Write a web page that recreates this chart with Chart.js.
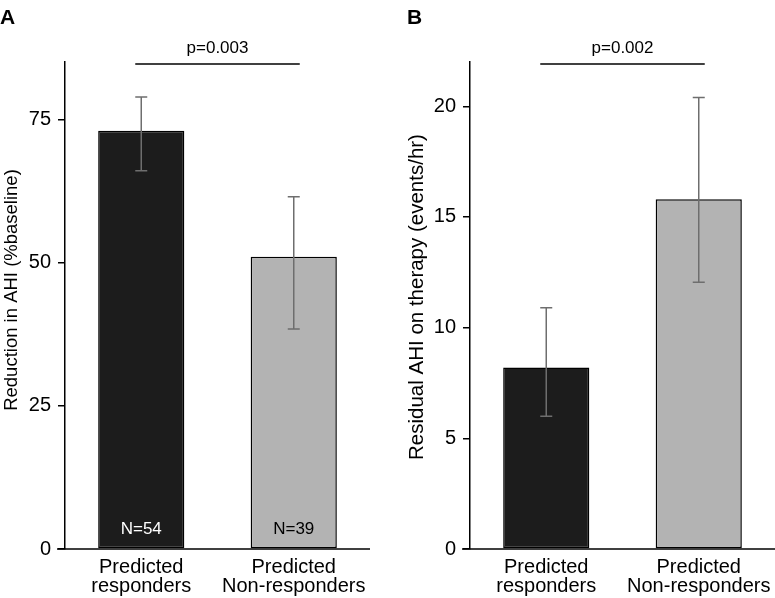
<!DOCTYPE html>
<html>
<head>
<meta charset="utf-8">
<script src="https://cdn.jsdelivr.net/npm/chart.js@4.4.1/dist/chart.umd.min.js"></script>
<style>
  body { margin: 0; background: #fff; }
  #wrap { position: relative; width: 775px; height: 598px; }
  canvas { position: absolute; top: 0; }
  #chartA { left: 0; }
  #chartB { left: 390px; }
</style>
</head>
<body>
<div id="wrap">
  <canvas id="chartA" width="390" height="598"></canvas>
  <canvas id="chartB" width="385" height="598"></canvas>
</div>
<script>
const categories = [['Predicted', 'responders'], ['Predicted', 'Non-responders']];

const reductionMean = [73, 51];
const reductionLower = [66, 38.4];
const reductionUpper = [78.9, 61.5];

const residualMean = [8.2, 15.8];
const residualLower = [6.0, 12.05];
const residualUpper = [10.9, 20.4];

const sampleSizes = ['N=54', 'N=39'];
const reductionTicks = [0, 25, 50, 75];
const residualTicks = [0, 5, 10, 15, 20];

const FAMILY = "'Liberation Sans', Arial, Helvetica, sans-serif";
Chart.defaults.font.family = FAMILY;
Chart.defaults.color = '#000';

// axis line, error bars, p-value bracket, N labels, axis title and panel letter
const extras = {
    id: 'extras',
    afterDatasetsDraw(chart, args, opts) {
        const ctx = chart.ctx;
        const area = chart.chartArea;
        const y = chart.scales.y;
        const bars = chart.getDatasetMeta(0).data;

        ctx.save();
        ctx.strokeStyle = '#000';
        ctx.lineWidth = 1.5;
        ctx.beginPath();
        ctx.moveTo(area.left - 8, area.bottom);
        ctx.lineTo(area.right, area.bottom);
        ctx.stroke();

        ctx.strokeStyle = '#6e6e6e';
        bars.forEach((bar, i) => {
            const top = y.getPixelForValue(opts.upper[i]);
            const bot = y.getPixelForValue(opts.lower[i]);
            ctx.beginPath();
            ctx.moveTo(bar.x, top);
            ctx.lineTo(bar.x, bot);
            ctx.moveTo(bar.x - 6, top);
            ctx.lineTo(bar.x + 6, top);
            ctx.moveTo(bar.x - 6, bot);
            ctx.lineTo(bar.x + 6, bot);
            ctx.stroke();
        });

        ctx.strokeStyle = '#000';
        ctx.beginPath();
        ctx.moveTo(bars[0].x - 6, area.top + 2);
        ctx.lineTo(bars[1].x + 6, area.top + 2);
        ctx.stroke();

        ctx.fillStyle = '#000';
        ctx.font = '17px ' + FAMILY;
        ctx.textAlign = 'center';
        ctx.textBaseline = 'alphabetic';
        ctx.fillText(opts.pText, (bars[0].x + bars[1].x) / 2, area.top - 9);

        if (opts.nLabels) {
            ctx.textBaseline = 'middle';
            bars.forEach((bar, i) => {
                ctx.fillStyle = i === 0 ? '#fff' : '#000';
                ctx.fillText(opts.nLabels[i], bar.x, area.bottom - 20);
            });
        }

        // y axis title
        ctx.save();
        ctx.fillStyle = '#000';
        ctx.font = opts.titleSize + 'px ' + FAMILY;
        ctx.translate(opts.titleX, opts.titleY);
        ctx.rotate(-Math.PI / 2);
        ctx.textAlign = 'center';
        ctx.textBaseline = 'middle';
        ctx.fillText(opts.title, 0, 0);
        ctx.restore();

        ctx.fillStyle = '#000';
        ctx.font = 'bold 21px ' + FAMILY;
        ctx.textAlign = 'left';
        ctx.textBaseline = 'alphabetic';
        ctx.fillText(opts.letter, opts.letterX, 24);
        ctx.restore();
    }
};

function makeChart(id, values, lower, upper, ticks, yMax, opts) {
    return new Chart(document.getElementById(id), {
        type: 'bar',
        data: {
            labels: categories,
            datasets: [{
                data: values,
                backgroundColor: ['#1c1c1c', '#b3b3b3'],
                borderColor: '#000',
                borderWidth: 1.5,
                borderSkipped: false,
                barPercentage: 0.565,
                categoryPercentage: 1
            }]
        },
        plugins: [extras],
        options: {
            responsive: false,
            animation: false,
            devicePixelRatio: 1,
            layout: {padding: {top: 62, right: opts.right, left: 0, bottom: 0}},
            plugins: {
                legend: {display: false},
                tooltip: {enabled: false},
                extras: Object.assign({lower: lower, upper: upper}, opts)
            },
            scales: {
                x: {
                    grid: {display: false, drawTicks: false},
                    border: {display: false},
                    ticks: {font: {size: 20, lineHeight: 0.95}, padding: 9, maxRotation: 0},
                    afterFit: (s) => {
                        s.height = 49;
                        s.paddingLeft = 0;
                        s.paddingRight = 0;
                    }
                },
                y: {
                    min: 0,
                    max: yMax,
                    afterBuildTicks: (s) => { s.ticks = ticks.map(v => ({value: v})); },
                    grid: {drawOnChartArea: false, drawTicks: true, tickLength: 7, color: '#000', lineWidth: 1.5},
                    border: {display: true, color: '#000', width: 1.5},
                    ticks: {font: {size: 20}, padding: 7},
                    title: {display: false},
                    afterFit: (s) => { s.width = opts.yWidth; }
                }
            }
        }
    });
}

makeChart('chartA', reductionMean, reductionLower, reductionUpper, reductionTicks, 85, {
    right: 20, yWidth: 65,
    title: 'Reduction in AHI (%baseline)', titleSize: 18.5, titleX: 12, titleY: 290,
    pText: 'p=0.003', nLabels: sampleSizes, letter: 'A', letterX: 0
});

makeChart('chartB', residualMean, residualLower, residualUpper, residualTicks, 22, {
    right: 0, yWidth: 80,
    title: 'Residual AHI on therapy (events/hr)', titleSize: 20.5, titleX: 27, titleY: 297,
    pText: 'p=0.002', nLabels: null, letter: 'B', letterX: 17
});
</script>
</body>
</html>
